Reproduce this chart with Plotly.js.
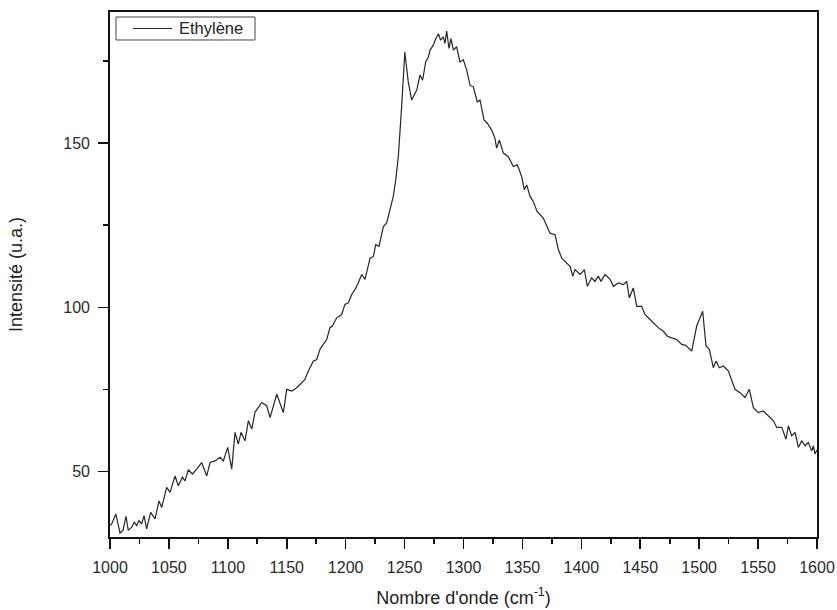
<!DOCTYPE html>
<html>
<head>
<meta charset="utf-8">
<script src="https://cdn.plot.ly/plotly-3.0.1.min.js"></script>
<style>html,body{margin:0;padding:0;background:#fff;}#chart{width:837px;height:610px;}</style>
</head>
<body>
<div id="chart"></div>
<script>
var seriesName = "Ethylène";
var wavenumber = [
1000,1001.4,1005,1008.5,1011,1013.6,1015.5,1018.4,1020.6,1022.6,1024.6,1026.9,1028.9,1031.1,1034.5,1038.2,1041.6,1043.9,1048.1,1050.9,
1055.2,1058,1061.4,1063.7,1066.5,1069.9,1073.6,1077.8,1082.1,1084.9,1089.1,1093.4,1096.2,1099.9,1103.3,1106.1,1108.9,1111.2,1114.6,1117.4,
1120.3,1123,1128.8,1133,1135.8,1141.5,1147.1,1150,1154.2,1158.5,1162.7,1165.5,1168.3,1172.5,1175.4,1178.2,1181,1183.9,1186.7,1188.7,
1192.4,1196.6,1199.4,1202.3,1205.1,1207.9,1210.7,1213.6,1216.4,1220.7,1223.5,1225.5,1228.3,1232,1234.8,1237.6,1240.4,1242.5,1244.7,1247.5,
1250.2,1253,1256,1260.3,1263.1,1265.3,1267.9,1270.2,1271.6,1274.4,1275.9,1278.7,1280.6,1282.9,1284.3,1285.7,1287.7,1289.4,1291.4,1294.2,
1297,1299.8,1302.7,1305.5,1308.3,1311.7,1314,1317.4,1320.2,1323.9,1326.7,1328.1,1330.4,1333.8,1338,1342.3,1345.7,1349.4,1351.6,1353.6,
1356.5,1359.3,1362.4,1367.7,1370.6,1373.4,1377.7,1380.5,1383.4,1387.6,1390.4,1392.7,1394.6,1398.9,1402.6,1405.1,1408.8,1411.6,1414.4,1416.7,
1420.1,1424.4,1427.2,1431.4,1435.7,1438.5,1440.7,1444.1,1447,1451.2,1454,1458.3,1462.5,1465.3,1469.6,1473,1476.7,1480.9,1485.2,1488.5,
1493.7,1497.9,1503,1505.8,1508.6,1512,1514.3,1517.1,1520.5,1524.8,1530.4,1534.7,1538.9,1542.6,1546,1550.2,1554.5,1558.7,1563,1565.8,
1570.1,1573.7,1575.7,1578.5,1581.4,1584.2,1587,1589.9,1592.6,1595.5,1596.9,1598.3,1600
];
var intensity = [
33.5,34.0,37.0,31.2,32.0,36.3,32.0,33.0,34.5,33.5,35.0,34.0,36.5,32.5,37.5,35.5,41.0,39.0,45.1,43.6,
48.6,45.6,48.2,47.1,50.5,49.2,50.7,52.7,48.6,52.7,53.2,54.3,53.2,57.3,50.7,61.9,58.3,61.9,59.3,65.4,
62.9,68.0,71.0,70.0,66.4,73.5,67.9,75.0,74.5,75.5,77.0,78.1,80.6,83.6,84.1,87.2,88.7,90.2,93.8,94.3,
96.8,97.8,100.9,101.4,103.9,105.4,107.4,110.0,108.5,115.0,115.5,119.1,118.6,124.6,125.7,130.2,133.8,138.8,146.0,161.1,
177.8,169.0,163.2,166.2,170.8,169.2,174.8,176.3,178.4,179.9,181.4,183.4,181.4,182.4,180.4,184.2,178.9,181.9,178.4,179.4,
174.8,175.5,172.3,167.7,167.2,162.6,163.2,157.1,156.1,154.0,151.5,148.5,151.0,147.0,145.9,142.9,143.4,139.8,135.8,137.3,
133.8,132.2,129.2,127.2,124.7,122.6,122.1,117.6,115.0,113.5,112.5,109.5,111.5,110.0,111.5,106.4,109.0,107.9,109.5,107.9,
110.0,108.5,106.4,107.4,106.9,107.9,102.9,105.9,100.3,100.3,97.8,96.3,94.8,93.8,92.7,91.2,90.7,90.2,88.7,88.4,
86.7,94.3,98.8,88.2,87.2,81.6,83.6,81.6,82.1,80.6,75.0,74.0,72.5,75.0,69.4,67.9,68.4,66.9,65.4,63.4,
63.4,59.8,63.9,60.8,61.9,57.3,59.3,57.8,58.8,56.3,57.8,55.3,56.5
];
var xTickVals = [1000,1050,1100,1150,1200,1250,1300,1350,1400,1450,1500,1550,1600];
var yTickVals = [50,100,150];
var xTitle = "Nombre d'onde (cm<sup>-1</sup>)";
var yTitle = "Intensité (u.a.)";

var FONT = 'Liberation Sans, Arial, sans-serif';
var LINE_COLOR = '#262626';
var trace = {
  x: wavenumber, y: intensity, type: 'scatter', mode: 'lines', name: seriesName,
  line: {color: LINE_COLOR, width: 1.2}, showlegend: false
};
var axisFont = {family: FONT, size: 16, color: '#2a2a2a'};
var layout = {
  width: 837, height: 610,
  margin: {l: 110, r: 20, t: 12, b: 73},
  paper_bgcolor: '#fff', plot_bgcolor: '#fff',
  font: {family: FONT, color: '#222'},
  xaxis: {
    range: [1000, 1600], tickvals: xTickVals, ticks: 'outside', ticklen: 10, tickwidth: 1.6, tickcolor: '#111',
    showline: true, linecolor: '#111', linewidth: 1.8, mirror: true, showgrid: false, zeroline: false,
    tickfont: axisFont, ticklabelstandoff: 5,
    minor: {dtick: 25, tick0: 1000, ticks: 'outside', ticklen: 5, tickwidth: 1.6, tickcolor: '#111', showgrid: false},
    title: {text: xTitle, font: {family: FONT, size: 18, color: '#222'}, standoff: 16}
  },
  yaxis: {
    range: [30, 190], tickvals: yTickVals, ticks: 'outside', ticklen: 10, tickwidth: 1.6, tickcolor: '#111',
    showline: true, linecolor: '#111', linewidth: 1.8, mirror: true, showgrid: false, zeroline: false,
    tickfont: axisFont, ticklabelstandoff: 5,
    minor: {dtick: 25, tick0: 0, ticks: 'outside', ticklen: 5, tickwidth: 1.6, tickcolor: '#111', showgrid: false},
    title: {text: yTitle, font: {family: FONT, size: 18, color: '#222'}, standoff: 36}
  },
  showlegend: false,
  shapes: [
    {type: 'rect', xref: 'paper', yref: 'paper', x0: 0.0085, x1: 0.2051, y0: 0.9467, y1: 0.9905,
     line: {color: '#444', width: 1}, fillcolor: '#fff'},
    {type: 'line', xref: 'paper', yref: 'paper', x0: 0.0325, x1: 0.0877, y0: 0.9686, y1: 0.9686,
     line: {color: LINE_COLOR, width: 1.2}}
  ],
  annotations: [
    {xref: 'paper', yref: 'paper', x: 0.0945, y: 0.9686, xanchor: 'left', yanchor: 'middle',
     text: seriesName, showarrow: false, font: {family: FONT, size: 16.5, color: '#222'}}
  ]
};
Plotly.newPlot('chart', [trace], layout, {displayModeBar: false, staticPlot: true});
</script>
</body>
</html>
